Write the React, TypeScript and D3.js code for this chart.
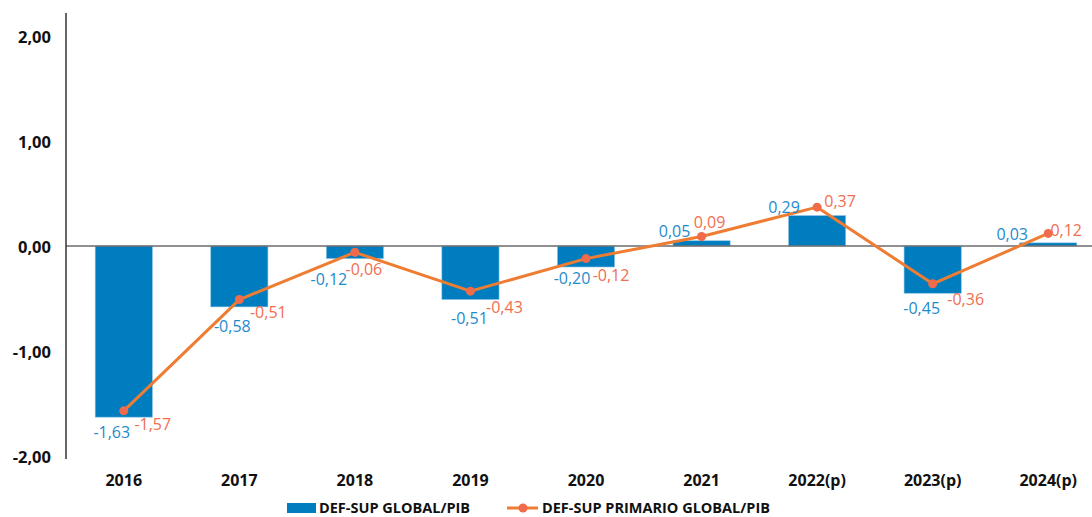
import React from "react";
import * as d3 from "d3";

const categories = ["2016", "2017", "2018", "2019", "2020", "2021", "2022(p)", "2023(p)", "2024(p)"];
const globalValues = [-1.63, -0.58, -0.12, -0.51, -0.2, 0.05, 0.29, -0.45, 0.03];
const primarioValues = [-1.57, -0.51, -0.06, -0.43, -0.12, 0.09, 0.37, -0.36, 0.12];
const yTicks = [-2, -1, 0, 1, 2];
const seriesNames = ["DEF-SUP GLOBAL/PIB", "DEF-SUP PRIMARIO GLOBAL/PIB"];

// label nudges (dx, dy) relative to the mark end, as placed in the original
const barLabelNudge: [number, number][] = [
  [-12, 15], [-7, 19], [-26, 20], [-1, 18], [-14, 11], [-27, -10], [-33, -9], [-11, 15], [-36, -9],
];
const lineLabelNudge: [number, number][] = [
  [29, 13], [29, 12], [9, 17], [34, 16], [25, 16], [8, -15], [23, -6], [33, 15], [18, -3],
];

const W = 1092;
const H = 517;
const FONT = "'Open Sans', 'DejaVu Sans', sans-serif";
const BAR = "#007DBE";
const LINE = "#EE7D33";
const MARK = "#EF6B4B";
const BAR_TXT = "#1E8BCC";
const LINE_TXT = "#F06E50";

const fmt = (v: number) => v.toFixed(2).replace(".", ",");

export default function App() {
  const x = d3.scaleBand<string>().domain(categories).range([66, 1106]).padding(0);
  const y = d3.scaleLinear().domain([-2, 2]).range([456, 36]);
  const bw = x.bandwidth() * 0.495;
  const cx = (c: string) => (x(c) as number) + x.bandwidth() / 2;
  const line = d3
    .line<number>()
    .x((_, i) => cx(categories[i]))
    .y((d) => y(d));

  return (
    <svg
      width={W}
      height={H}
      style={{ position: "absolute", left: 0, top: 0, background: "#fff" }}
      fontFamily={FONT}
    >
      {/* bars */}
      {globalValues.map((v, i) => {
        const c = categories[i];
        const y0 = y(0);
        const y1 = y(v);
        return (
          <rect
            key={c}
            x={cx(c) - bw / 2}
            y={Math.min(y0, y1)}
            width={bw}
            height={Math.abs(y1 - y0)}
            fill={BAR}
            stroke="#8EC4E6"
            strokeWidth={0.6}
          />
        );
      })}
      {/* zero line */}
      <line x1={66} x2={W} y1={y(0)} y2={y(0)} stroke="#6b6b6b" strokeWidth={1.5} />
      {/* y axis line */}
      <line x1={66} x2={66} y1={13} y2={459} stroke="#333" strokeWidth={1.5} />
      {/* y tick labels */}
      {yTicks.map((t) => (
        <text
          key={t}
          x={51}
          y={y(t)}
          textAnchor="end"
          dominantBaseline="central"
          fontSize={16.5}
          fontWeight={700}
          fill="#111"
        >
          {fmt(t)}
        </text>
      ))}
      {/* x labels */}
      {categories.map((c) => (
        <text
          key={c}
          x={cx(c)}
          y={480}
          textAnchor="middle"
          dominantBaseline="central"
          fontSize={16}
          fontWeight={700}
          fill="#111"
        >
          {c}
        </text>
      ))}
      {/* line */}
      <path d={line(primarioValues) || ""} fill="none" stroke={LINE} strokeWidth={3} strokeLinejoin="round" />
      {primarioValues.map((v, i) => (
        <circle key={i} cx={cx(categories[i])} cy={y(v)} r={4.5} fill={MARK} />
      ))}
      {/* bar labels */}
      {globalValues.map((v, i) => (
        <text
          key={"b" + i}
          x={cx(categories[i]) + barLabelNudge[i][0]}
          y={y(v) + barLabelNudge[i][1]}
          textAnchor="middle"
          dominantBaseline="central"
          fontSize={16}
          fill={BAR_TXT}
        >
          {fmt(v)}
        </text>
      ))}
      {/* line labels */}
      {primarioValues.map((v, i) => (
        <text
          key={"l" + i}
          x={cx(categories[i]) + lineLabelNudge[i][0]}
          y={y(v) + lineLabelNudge[i][1]}
          textAnchor="middle"
          dominantBaseline="central"
          fontSize={16}
          fill={LINE_TXT}
        >
          {fmt(v)}
        </text>
      ))}
      {/* legend */}
      <rect x={287} y={503} width={29} height={10} fill={BAR} />
      <text x={319} y={513} fontSize={14.5} fontWeight={700} fill="#111">
        {seriesNames[0]}
      </text>
      <line x1={507} x2={538} y1={508} y2={508} stroke={LINE} strokeWidth={3} />
      <circle cx={523} cy={508} r={4.5} fill={MARK} />
      <text x={542} y={513} fontSize={14.5} fontWeight={700} fill="#111">
        {seriesNames[1]}
      </text>
    </svg>
  );
}
